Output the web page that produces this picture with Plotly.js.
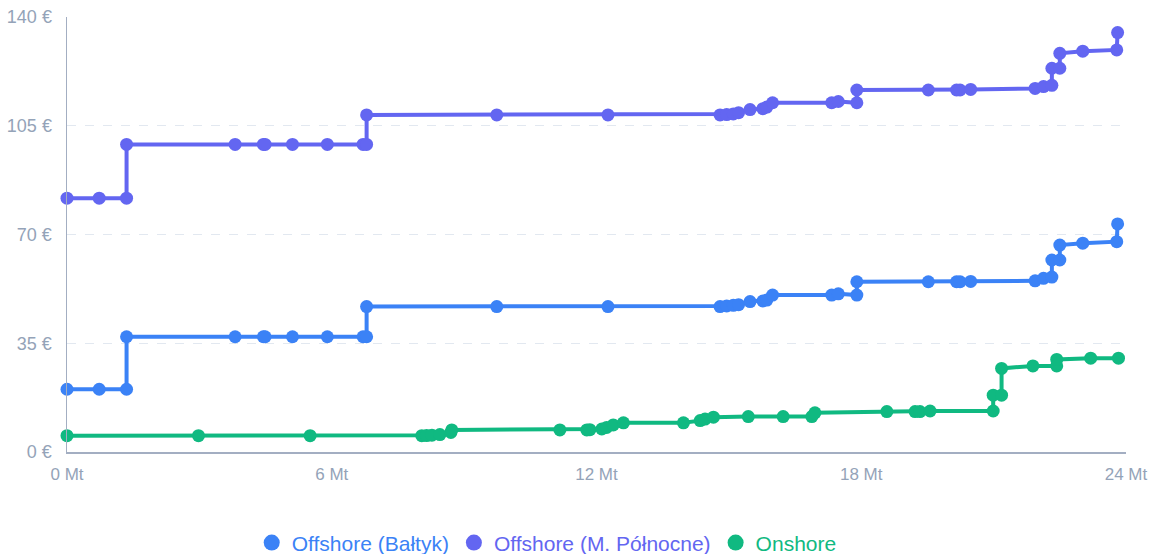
<!DOCTYPE html>
<html>
<head>
<meta charset="utf-8">
<script src="https://cdn.plot.ly/plotly-3.0.1.min.js"></script>
<style>html,body{margin:0;padding:0;background:#fff;}#chart{width:1155px;height:554px;}</style>
</head>
<body>
<div id="chart"></div>
<script>
// Cumulative capacity (Mt) and price (€)
const balticX = [0, 0.73, 1.35, 1.35, 3.81, 4.45, 4.49, 5.11, 5.90, 6.71, 6.79, 6.79, 9.74, 12.26, 14.80, 14.95, 15.10, 15.22, 15.48, 15.77, 15.86, 15.99, 17.33, 17.48, 17.90, 17.90, 19.52, 20.16, 20.24, 20.48, 21.94, 22.13, 22.32, 22.32, 22.50, 22.50, 23.02, 23.79, 23.81];
const balticY = [20.2, 20.2, 20.2, 37.1, 37.1, 37.1, 37.1, 37.1, 37.1, 37.1, 37.1, 46.8, 46.8, 46.8, 46.8, 47.0, 47.2, 47.4, 48.4, 48.6, 48.9, 50.5, 50.5, 50.9, 50.5, 54.8, 54.8, 54.8, 54.8, 54.9, 55.1, 55.9, 56.3, 61.8, 61.8, 66.6, 67.2, 67.7, 73.4];

const northSeaX = [0, 0.73, 1.35, 1.35, 3.81, 4.45, 4.49, 5.11, 5.90, 6.71, 6.79, 6.79, 9.74, 12.26, 14.80, 14.95, 15.10, 15.22, 15.48, 15.77, 15.86, 15.99, 17.33, 17.48, 17.90, 17.90, 19.52, 20.16, 20.24, 20.48, 21.94, 22.13, 22.32, 22.32, 22.50, 22.50, 23.02, 23.79, 23.81];
const northSeaY = [81.7, 81.7, 81.7, 99.0, 99.0, 99.0, 99.0, 99.0, 99.0, 99.0, 99.0, 108.5, 108.5, 108.5, 108.5, 108.6, 108.8, 109.2, 110.2, 110.5, 111.0, 112.4, 112.4, 112.8, 112.4, 116.5, 116.5, 116.5, 116.5, 116.7, 117.0, 117.6, 118.0, 123.5, 123.5, 128.3, 129.0, 129.4, 135.0];

const onshoreX = [0, 2.98, 5.51, 8.04, 8.15, 8.27, 8.45, 8.70, 8.72, 11.17, 11.78, 11.85, 12.12, 12.23, 12.38, 12.61, 13.97, 14.35, 14.46, 14.65, 15.44, 16.23, 16.88, 16.95, 18.58, 19.22, 19.33, 19.56, 20.99, 20.99, 21.18, 21.18, 21.89, 22.43, 22.43, 23.20, 23.83];
const onshoreY = [5.25, 5.25, 5.25, 5.25, 5.3, 5.4, 5.6, 6.3, 7.1, 7.1, 7.1, 7.2, 7.4, 7.9, 8.7, 9.4, 9.4, 10.1, 10.6, 11.2, 11.4, 11.4, 11.4, 12.6, 13.0, 13.0, 13.0, 13.2, 13.2, 18.3, 18.3, 26.9, 27.7, 27.7, 29.8, 30.2, 30.2];

const seriesNames = ["Offshore (Bałtyk)", "Offshore (M. Północne)", "Onshore"];
const seriesColors = ["#3b82f6", "#6366f1", "#10b981"];

const xTicks = [0, 6, 12, 18, 24];
const xTickText = ["0 Mt", "6 Mt", "12 Mt", "18 Mt", "24 Mt"];
const yTicks = [0, 35, 70, 105, 140];
const yTickText = ["0 €", "35 €", "70 €", "105 €", "140 €"];

const xs = [balticX, northSeaX, onshoreX];
const ys = [balticY, northSeaY, onshoreY];

const traces = [];
for (let i = 0; i < 3; i++) {
  traces.push({
    x: xs[i], y: ys[i], type: "scatter", mode: "lines+markers",
    line: {color: seriesColors[i], width: 4},
    marker: {color: seriesColors[i], size: 13},
    cliponaxis: false, showlegend: false, hoverinfo: "x+y"
  });
}
for (let i = 0; i < 3; i++) {
  traces.push({
    x: [null], y: [null], type: "scatter", mode: "markers",
    name: '<span style="color:' + seriesColors[i] + '">' + seriesNames[i] + '</span>',
    marker: {color: seriesColors[i], size: 20}, showlegend: true
  });
}

const layout = {
  width: 1155, height: 554,
  margin: {l: 67, r: 29, t: 17, b: 102, autoexpand: false},
  paper_bgcolor: "#ffffff", plot_bgcolor: "#ffffff",
  font: {family: "Liberation Sans, Arial, sans-serif", size: 17, color: "#94a3b8"},
  xaxis: {
    range: [0, 24], tickvals: xTicks, ticktext: xTickText,
    showgrid: false, zeroline: false, showline: true, linecolor: "#a3aec2", linewidth: 1.5,
    ticks: "", tickfont: {size: 17, color: "#94a3b8"}, ticklabelstandoff: 6
  },
  yaxis: {
    range: [0, 140], tickvals: yTicks, ticktext: yTickText,
    showgrid: true, gridcolor: "#e2e8f0", griddash: "dash", gridwidth: 1,
    zeroline: false, showline: true, linecolor: "#a3aec2", linewidth: 1.5,
    ticks: "", tickfont: {size: 18, color: "#94a3b8"}, ticklabelstandoff: 10
  },
  legend: {
    orientation: "h", x: 0.453, xanchor: "center", y: -0.209, yanchor: "middle",
    font: {size: 21}, itemsizing: "trace", traceorder: "normal"
  },
  showlegend: true
};

Plotly.newPlot("chart", traces, layout, {displayModeBar: false, staticPlot: true});
</script>
</body>
</html>
